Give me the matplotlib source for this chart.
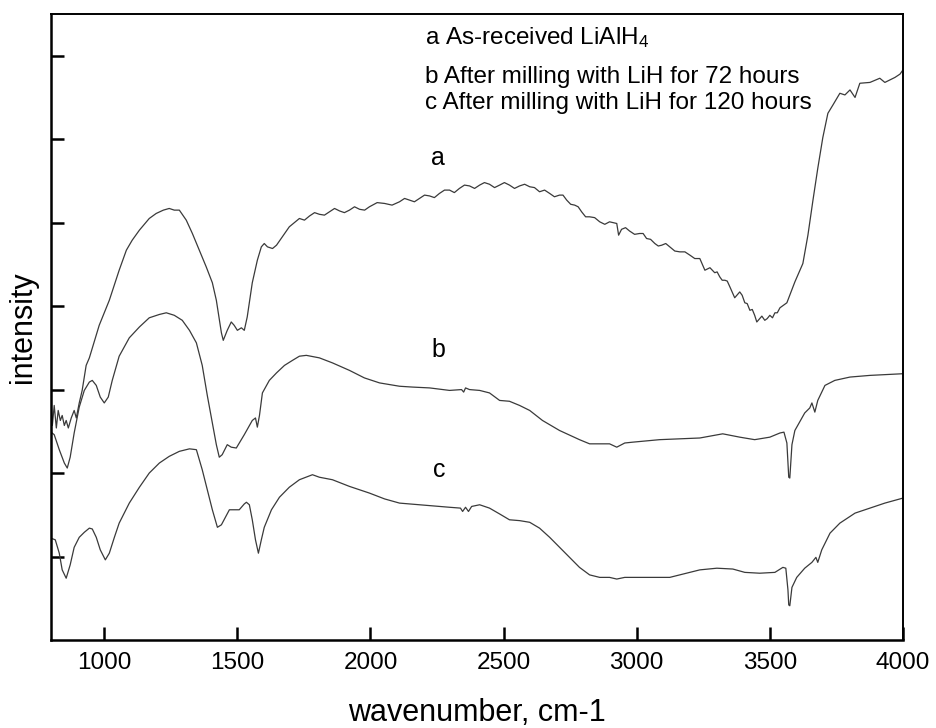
import matplotlib.pyplot as plt

plt.rcParams['font.family'] = ['Liberation Sans', 'DejaVu Sans']
plt.rcParams['mathtext.fontset'] = 'custom'
plt.rcParams['mathtext.rm'] = 'Liberation Sans'
plt.rcParams['mathtext.it'] = 'Liberation Sans:italic'

# a - as-received LiAlH4
wn_a = [800, 805, 812, 820, 827, 835, 842, 850, 857, 865, 876, 887, 895, 906, 917, 932, 944,
        981, 1019, 1056, 1083, 1105, 1132, 1169, 1195, 1222, 1244, 1263, 1282, 1308, 1331,
        1357, 1383, 1406, 1421, 1440, 1447, 1462, 1477, 1488, 1500, 1515, 1526, 1537, 1556,
        1575, 1590, 1601, 1613, 1632, 1647, 1669, 1695,
        1733, 1752, 1771, 1790, 1808, 1827, 1846, 1865, 1884, 1902, 1921, 1940, 1959, 1978,
        1996, 2025, 2053, 2081, 2109, 2128, 2147, 2165, 2184, 2203, 2222, 2240, 2259, 2278,
        2297, 2315, 2334, 2353, 2372, 2391, 2410, 2428, 2447, 2466, 2485, 2503, 2522, 2541,
        2560, 2579, 2598, 2616, 2635, 2654, 2673, 2691, 2710, 2723, 2737, 2752, 2767, 2780,
        2793, 2808, 2823, 2842, 2861, 2880, 2898, 2925, 2932, 2943, 2958, 2973, 2992, 3011,
        3024, 3037, 3052, 3068, 3081, 3094, 3109, 3124, 3143, 3162, 3181, 3200, 3218, 3237,
        3256, 3275, 3293, 3302, 3312, 3321, 3331, 3340, 3350, 3368, 3387, 3396, 3406, 3415,
        3425, 3434, 3443, 3451, 3470, 3481, 3490, 3500, 3510, 3519, 3528, 3538, 3564,
        3594, 3624, 3643, 3662, 3680, 3699, 3718, 3737, 3763, 3782, 3801, 3820, 3838, 3876,
        3913, 3932, 3951, 3970, 3989, 4000]
int_a = [2.87, 2.57, 2.81, 2.54, 2.75, 2.63, 2.69, 2.57, 2.63, 2.54, 2.66, 2.75, 2.66, 2.84, 2.99, 3.29, 3.38,
         3.77, 4.07, 4.43, 4.67, 4.79, 4.91, 5.05, 5.11, 5.15, 5.17, 5.15, 5.15, 5.03, 4.87,
         4.67, 4.47, 4.28, 4.07, 3.68, 3.59, 3.71, 3.81, 3.77, 3.71, 3.74, 3.71, 3.87, 4.28,
         4.55, 4.71, 4.75, 4.71, 4.69, 4.73, 4.83, 4.95,
         5.05, 5.03, 5.08, 5.12, 5.10, 5.09, 5.13, 5.17, 5.14, 5.12, 5.15, 5.19, 5.16, 5.15,
         5.19, 5.24, 5.23, 5.21, 5.25, 5.29, 5.27, 5.25, 5.29, 5.33, 5.32, 5.30, 5.35, 5.39,
         5.39, 5.36, 5.41, 5.45, 5.44, 5.41, 5.45, 5.48, 5.46, 5.42, 5.45, 5.48, 5.45, 5.41,
         5.44, 5.46, 5.43, 5.42, 5.37, 5.39, 5.35, 5.31, 5.33, 5.33, 5.27, 5.22, 5.21, 5.19,
         5.13, 5.07, 5.07, 5.06, 5.01, 4.98, 5.01, 4.99, 4.85, 4.92, 4.94, 4.90, 4.86, 4.87,
         4.87, 4.81, 4.80, 4.75, 4.72, 4.73, 4.75, 4.71, 4.66, 4.65, 4.65, 4.61, 4.57, 4.57,
         4.43, 4.46, 4.40, 4.41, 4.35, 4.31, 4.31, 4.30, 4.23, 4.10, 4.17, 4.13, 4.04, 4.03,
         3.95, 3.96, 3.89, 3.81, 3.88, 3.83, 3.85, 3.89, 3.86, 3.92, 3.92, 3.98, 4.04,
         4.29, 4.51, 4.85, 5.27, 5.65, 6.02, 6.31, 6.41, 6.55, 6.53, 6.59, 6.50, 6.67, 6.68,
         6.73, 6.68, 6.71, 6.74, 6.78, 6.83]

# b - milled with LiH 72 h
wn_b = [800, 812, 831, 850, 861, 872, 887, 906, 925, 944, 955, 970, 985, 1000, 1015, 1030,
        1056, 1094, 1132, 1169, 1207, 1233, 1263, 1293, 1320, 1346, 1368, 1387, 1406, 1421,
        1432, 1443, 1462, 1477, 1496, 1526, 1556, 1568, 1575, 1583, 1594, 1620, 1647, 1677,
        1707, 1733, 1759, 1808, 1857, 1921, 1977, 2034, 2109, 2158, 2222, 2297, 2342, 2350,
        2357, 2372, 2410, 2447, 2485, 2522, 2560, 2598, 2646, 2710, 2785, 2823, 2861, 2898,
        2925, 2955, 2985, 3086, 3237, 3323, 3387, 3443, 3500, 3538, 3553, 3564, 3571, 3575,
        3583, 3594, 3631, 3650, 3658, 3669, 3680, 3707, 3744, 3801, 3876, 4000]
int_b = [2.49, 2.46, 2.28, 2.12, 2.06, 2.19, 2.48, 2.79, 2.99, 3.09, 3.11, 3.05, 2.91, 2.84, 2.91, 3.11,
         3.40, 3.62, 3.75, 3.86, 3.90, 3.92, 3.89, 3.83, 3.71, 3.56, 3.29, 2.93, 2.60, 2.34,
         2.19, 2.22, 2.34, 2.31, 2.30, 2.46, 2.63, 2.66, 2.55, 2.69, 2.96, 3.11, 3.20, 3.29,
         3.35, 3.40, 3.41, 3.38, 3.32, 3.23, 3.14, 3.08, 3.04, 3.03, 3.02, 2.99, 3.00, 2.97,
         3.02, 3.00, 2.99, 2.96, 2.87, 2.86, 2.81, 2.75, 2.63, 2.51, 2.40, 2.35, 2.35, 2.35,
         2.31, 2.36, 2.37, 2.40, 2.42, 2.47, 2.43, 2.40, 2.43, 2.48, 2.49, 2.36, 1.95, 1.94,
         2.34, 2.51, 2.72, 2.78, 2.84, 2.73, 2.87, 3.05, 3.11, 3.15, 3.17, 3.19]

# c - milled with LiH 120 h
wn_c = [800, 816, 831, 842, 857, 872, 887, 906, 925, 944, 955, 970, 985, 1004, 1019, 1038,
        1056, 1094, 1132, 1169, 1207, 1244, 1282, 1320, 1346, 1368, 1387, 1406, 1425, 1440,
        1455, 1470, 1507, 1526, 1534, 1545, 1556, 1568, 1579, 1590, 1601, 1628, 1658, 1695,
        1733, 1782, 1808, 1857, 1921, 1996, 2053, 2109, 2184, 2297, 2338, 2346, 2357, 2368,
        2380, 2410, 2447, 2485, 2522, 2560, 2598, 2635, 2673, 2729, 2785, 2823, 2861, 2898,
        2925, 2955, 2985, 3124, 3237, 3301, 3361, 3406, 3462, 3519, 3549, 3560, 3568, 3571,
        3575, 3583, 3601, 3631, 3658, 3673, 3680, 3695, 3726, 3763, 3820, 3876, 3932, 4000]
int_c = [1.22, 1.20, 1.04, 0.84, 0.74, 0.90, 1.11, 1.23, 1.29, 1.34, 1.33, 1.23, 1.08, 0.96, 1.04, 1.23,
         1.40, 1.64, 1.83, 2.00, 2.12, 2.20, 2.26, 2.29, 2.28, 2.04, 1.80, 1.56, 1.35, 1.38,
         1.47, 1.56, 1.56, 1.63, 1.65, 1.62, 1.44, 1.20, 1.04, 1.20, 1.35, 1.56, 1.71, 1.83,
         1.92, 1.98, 1.95, 1.92, 1.84, 1.76, 1.69, 1.64, 1.62, 1.59, 1.58, 1.54, 1.59, 1.54,
         1.60, 1.62, 1.58, 1.51, 1.44, 1.43, 1.41, 1.34, 1.23, 1.05, 0.87, 0.78, 0.75, 0.75,
         0.73, 0.75, 0.75, 0.75, 0.84, 0.86, 0.85, 0.81, 0.80, 0.81, 0.87, 0.86, 0.60, 0.42,
         0.41, 0.63, 0.75, 0.86, 0.93, 0.99, 0.93, 1.08, 1.28, 1.40, 1.52, 1.58, 1.64, 1.70]

legend_lines = ['a As-received LiAlH$_4$',
                'b After milling with LiH for 72 hours',
                'c After milling with LiH for 120 hours']
xticks = [1000, 1500, 2000, 2500, 3000, 3500, 4000]

fig = plt.figure(figsize=(9.36, 7.28), dpi=100)
ax = fig.add_axes([0.0545, 0.1209, 0.9102, 0.8599])

for wn, y in [(wn_a, int_a), (wn_b, int_b), (wn_c, int_c)]:
    ax.plot(wn, y, color='#3a3a3a', lw=0.9)

ax.set_xlim(800, 4000)
ax.set_ylim(0, 7.5)
ax.set_xticks(xticks)
ax.set_yticks(range(1, 8))
ax.set_yticklabels([])
ax.tick_params(direction='in', length=9.5, width=1.8, labelsize=17.5, pad=9, colors='black')
for side in ['left', 'bottom']:
    ax.spines[side].set_linewidth(1.8)
for side in ['top', 'right']:
    ax.spines[side].set_linewidth(1.4)

ax.set_xlabel('wavenumber, cm-1', fontsize=22)
ax.xaxis.set_label_coords(0.5, -0.1166)
ax.xaxis.label.set_va('center')
ax.set_ylabel('intensity', fontsize=22)
ax.yaxis.set_label_coords(-0.0329, 0.5)
ax.yaxis.label.set_va('center')

# curve letters
ax.text(2252, 5.78, 'a', fontsize=18, ha='center', va='center')
ax.text(2256, 3.47, 'b', fontsize=18, ha='center', va='center')
ax.text(2259, 2.04, 'c', fontsize=18, ha='center', va='center')

# legend text block
for txt, yy in zip(legend_lines, [7.22, 6.74, 6.43]):
    ax.text(2203, yy, txt, fontsize=17.5, ha='left', va='center')

fig.savefig('out.png', dpi=100)
